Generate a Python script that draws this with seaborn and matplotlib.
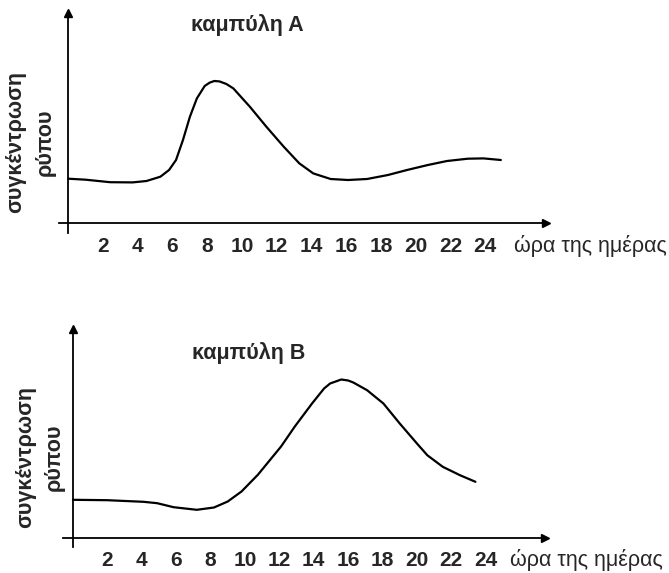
import numpy as np
import pandas as pd
import matplotlib
matplotlib.use("Agg")
import matplotlib.pyplot as plt
import seaborn as sns

# values (concentration in arbitrary units)
hours_a = [0, 1, 2.4, 3.7, 4.5, 5.3, 5.8, 6.2, 6.6, 7.0, 7.4, 7.85, 8.13, 8.4, 8.7,
           9.1, 9.5, 10.45, 11.4, 12.4, 13.3, 14.1, 15.1, 16.1, 17.2, 18.4, 19.5,
           20.7, 21.8, 23.0, 23.9, 24.9]
conc_a = [44, 43, 40.5, 40.3, 41.7, 46, 52.7, 62.7, 82.7, 106, 124.3, 136.7, 140,
          141.7, 141.3, 138.7, 134.3, 116, 96, 76, 59.3, 49.3, 43.7, 42.7, 43.7,
          47.7, 52.7, 57.7, 61.7, 64, 64.3, 62.7]

hours_b = [0, 2, 4.1, 4.9, 5.85, 7.2, 8.2, 9.0, 9.8, 10.75, 12.1, 12.9, 13.9, 14.6,
           14.95, 15.6, 16.0, 16.3, 17.1, 18.05, 19.0, 20.0, 20.6, 21.5, 22.5, 23.4]
conc_b = [37.7, 37.3, 35.7, 34.3, 30.3, 27.7, 30, 36, 46, 62.7, 91, 111, 134, 149,
          154, 158, 157, 155, 147.3, 134, 114, 94, 82.3, 70.7, 62.3, 55.7]

hour_ticks = list(range(2, 25, 2))
titles = ["καμπύλη A", "καμπύλη B"]
xlabel = "ώρα της ημέρας"
ylabel_lines = ["συγκέντρωση", "ρύπου"]

sns.set_style("white")
plt.rcParams["font.family"] = ["Liberation Sans", "DejaVu Sans"]

W, H = 669, 573
fig = plt.figure(figsize=(W / 100, H / 100), dpi=100)


def px(x, y):
    return x / W, 1 - y / H


def draw_panel(rect, xlim, ylim, hours, conc, title, title_xy, ylab_x, ylab_y, xlab_xy):
    ax = fig.add_axes(rect)
    df = pd.DataFrame({"hour": hours, "conc": conc})
    sns.lineplot(data=df, x="hour", y="conc", ax=ax, color="black", linewidth=1.6,
                 sort=False, solid_joinstyle="round")
    ax.set_xlim(*xlim)
    ax.set_ylim(*ylim)
    for s in ["top", "right"]:
        ax.spines[s].set_visible(False)
    for s in ["bottom", "left"]:
        ax.spines[s].set_position(("data", 0))
        ax.spines[s].set_linewidth(1.3)
        ax.spines[s].set_color("black")
    ax.plot(1, 0, ">", color="black", ms=6, transform=ax.get_yaxis_transform(), clip_on=False)
    ax.plot(0, 1, "^", color="black", ms=6, transform=ax.get_xaxis_transform(), clip_on=False)
    ax.set_xticks(hour_ticks)
    ax.set_xticklabels([str(h) for h in hour_ticks], fontweight="bold", fontsize=15)
    ax.set_yticks([])
    ax.tick_params(axis="x", direction="inout", length=14, width=0.8, color="#808080", pad=3)
    ax.set_xlabel("")
    ax.set_ylabel("")
    ax.grid(False)

    fig.text(*px(*title_xy), title, fontsize=15.5, fontweight="bold", ha="center", va="center")
    fig.text(*px(ylab_x[0], ylab_y), ylabel_lines[0], fontsize=15.5, fontweight="bold",
             rotation=90, ha="center", va="center")
    fig.text(*px(ylab_x[1], ylab_y), ylabel_lines[1], fontsize=15.5, fontweight="bold",
             rotation=90, ha="center", va="center")
    fig.text(*px(*xlab_xy), xlabel, fontsize=15.5, ha="left", va="center")
    return ax


# panel A
draw_panel([58.6 / W, 1 - 232.7 / H, 487.4 / W, 220 / H], (-0.56, 27.5), (-10, 210),
           hours_a, conc_a, titles[0], (247, 25), (16, 45), 142, (514, 246))
# panel B
draw_panel([63.3 / W, 1 - 547 / H, 481.8 / W, 218 / H], (-0.56, 27.45), (-9.5, 208.5),
           hours_b, conc_b, titles[1], (249, 353), (26, 54), 457, (510, 560))

fig.savefig("out.png", dpi=100)
